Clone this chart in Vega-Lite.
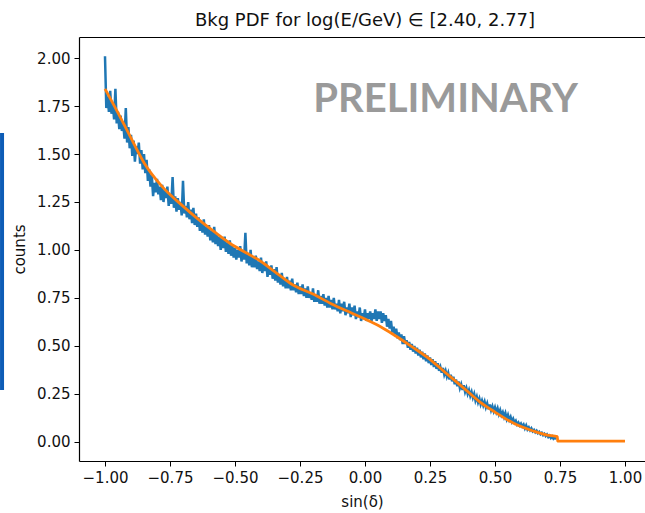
{
  "$schema": "https://vega.github.io/schema/vega-lite/v6.json",
  "width": 566,
  "height": 424,
  "autosize": {"type": "none"},
  "padding": {"left": 79, "top": 37, "right": 0, "bottom": 52},
  "background": "white",
  "title": {"text": "Bkg PDF for log(E/GeV) ∈ [2.40, 2.77]", "font": "DejaVu Sans", "fontSize": 18, "fontWeight": "normal", "color": "#111", "anchor": "middle", "offset": 7, "dx": 3},
  "config": {
    "view": {"stroke": null},
    "axis": {"labelFont": "DejaVu Sans", "titleFont": "DejaVu Sans", "labelFontSize": 15, "titleFontSize": 15, "titleFontWeight": "normal", "labelColor": "#111", "titleColor": "#111", "domainColor": "black", "tickColor": "black", "tickSize": 5, "grid": false, "labelPadding": 4, "domainWidth": 1.2}
  },
  "datasets": {
    "blue": [
      {"x": -1.000, "y": 2.01}, {"x": -0.995, "y": 1.74}, {"x": -0.990, "y": 1.80}, {"x": -0.985, "y": 1.72}, {"x": -0.980, "y": 1.83},
      {"x": -0.975, "y": 1.71}, {"x": -0.970, "y": 1.76}, {"x": -0.965, "y": 1.68}, {"x": -0.960, "y": 1.84}, {"x": -0.955, "y": 1.66},
      {"x": -0.950, "y": 1.72}, {"x": -0.945, "y": 1.63}, {"x": -0.940, "y": 1.70}, {"x": -0.935, "y": 1.62}, {"x": -0.930, "y": 1.66},
      {"x": -0.925, "y": 1.58}, {"x": -0.920, "y": 1.74}, {"x": -0.915, "y": 1.56}, {"x": -0.910, "y": 1.64}, {"x": -0.905, "y": 1.53},
      {"x": -0.900, "y": 1.60}, {"x": -0.895, "y": 1.49}, {"x": -0.890, "y": 1.57}, {"x": -0.885, "y": 1.46}, {"x": -0.880, "y": 1.54},
      {"x": -0.875, "y": 1.50}, {"x": -0.870, "y": 1.56}, {"x": -0.865, "y": 1.45}, {"x": -0.860, "y": 1.52}, {"x": -0.855, "y": 1.42},
      {"x": -0.850, "y": 1.50}, {"x": -0.845, "y": 1.40}, {"x": -0.840, "y": 1.47}, {"x": -0.835, "y": 1.36}, {"x": -0.830, "y": 1.42},
      {"x": -0.825, "y": 1.33}, {"x": -0.820, "y": 1.39}, {"x": -0.815, "y": 1.28}, {"x": -0.810, "y": 1.35}, {"x": -0.805, "y": 1.30},
      {"x": -0.800, "y": 1.37}, {"x": -0.795, "y": 1.29}, {"x": -0.790, "y": 1.33}, {"x": -0.785, "y": 1.26}, {"x": -0.780, "y": 1.34},
      {"x": -0.775, "y": 1.25}, {"x": -0.770, "y": 1.31}, {"x": -0.765, "y": 1.27}, {"x": -0.760, "y": 1.33}, {"x": -0.755, "y": 1.23},
      {"x": -0.750, "y": 1.29}, {"x": -0.745, "y": 1.24}, {"x": -0.740, "y": 1.38}, {"x": -0.735, "y": 1.22}, {"x": -0.730, "y": 1.28},
      {"x": -0.725, "y": 1.20}, {"x": -0.720, "y": 1.27}, {"x": -0.715, "y": 1.21}, {"x": -0.710, "y": 1.25}, {"x": -0.705, "y": 1.18},
      {"x": -0.700, "y": 1.36}, {"x": -0.695, "y": 1.19}, {"x": -0.690, "y": 1.23}, {"x": -0.685, "y": 1.17}, {"x": -0.680, "y": 1.25},
      {"x": -0.675, "y": 1.16}, {"x": -0.670, "y": 1.21}, {"x": -0.665, "y": 1.14}, {"x": -0.660, "y": 1.22}, {"x": -0.655, "y": 1.13},
      {"x": -0.650, "y": 1.19}, {"x": -0.645, "y": 1.12}, {"x": -0.640, "y": 1.17}, {"x": -0.635, "y": 1.10}, {"x": -0.630, "y": 1.15},
      {"x": -0.625, "y": 1.09}, {"x": -0.620, "y": 1.16}, {"x": -0.615, "y": 1.08}, {"x": -0.610, "y": 1.12}, {"x": -0.605, "y": 1.07},
      {"x": -0.600, "y": 1.13}, {"x": -0.595, "y": 1.05}, {"x": -0.590, "y": 1.10}, {"x": -0.585, "y": 1.04}, {"x": -0.580, "y": 1.12},
      {"x": -0.575, "y": 1.03}, {"x": -0.570, "y": 1.08}, {"x": -0.565, "y": 1.02}, {"x": -0.560, "y": 1.07}, {"x": -0.555, "y": 1.00},
      {"x": -0.550, "y": 1.06}, {"x": -0.545, "y": 1.01}, {"x": -0.540, "y": 1.07}, {"x": -0.535, "y": 0.99}, {"x": -0.530, "y": 1.04},
      {"x": -0.525, "y": 0.98}, {"x": -0.520, "y": 1.05}, {"x": -0.515, "y": 0.97}, {"x": -0.510, "y": 1.02}, {"x": -0.505, "y": 0.96},
      {"x": -0.500, "y": 1.01}, {"x": -0.495, "y": 0.95}, {"x": -0.490, "y": 1.00}, {"x": -0.485, "y": 0.96}, {"x": -0.480, "y": 1.02},
      {"x": -0.475, "y": 0.94}, {"x": -0.470, "y": 0.99}, {"x": -0.465, "y": 0.95}, {"x": -0.460, "y": 1.09}, {"x": -0.455, "y": 0.93},
      {"x": -0.450, "y": 0.98}, {"x": -0.445, "y": 0.92}, {"x": -0.440, "y": 1.00}, {"x": -0.435, "y": 0.91}, {"x": -0.430, "y": 0.96},
      {"x": -0.425, "y": 0.91}, {"x": -0.420, "y": 0.97}, {"x": -0.415, "y": 0.90}, {"x": -0.410, "y": 0.94}, {"x": -0.405, "y": 0.89},
      {"x": -0.400, "y": 0.96}, {"x": -0.395, "y": 0.88}, {"x": -0.390, "y": 0.93}, {"x": -0.385, "y": 0.89}, {"x": -0.380, "y": 0.94},
      {"x": -0.375, "y": 0.86}, {"x": -0.370, "y": 0.91}, {"x": -0.365, "y": 0.87}, {"x": -0.360, "y": 0.92}, {"x": -0.355, "y": 0.85},
      {"x": -0.350, "y": 0.90}, {"x": -0.345, "y": 0.84}, {"x": -0.340, "y": 0.91}, {"x": -0.335, "y": 0.83}, {"x": -0.330, "y": 0.87},
      {"x": -0.325, "y": 0.82}, {"x": -0.320, "y": 0.88}, {"x": -0.315, "y": 0.81}, {"x": -0.310, "y": 0.85}, {"x": -0.305, "y": 0.80},
      {"x": -0.300, "y": 0.86}, {"x": -0.295, "y": 0.80}, {"x": -0.290, "y": 0.84}, {"x": -0.285, "y": 0.79}, {"x": -0.280, "y": 0.85},
      {"x": -0.275, "y": 0.79}, {"x": -0.270, "y": 0.82}, {"x": -0.265, "y": 0.78}, {"x": -0.260, "y": 0.83}, {"x": -0.255, "y": 0.77},
      {"x": -0.250, "y": 0.81}, {"x": -0.245, "y": 0.77}, {"x": -0.240, "y": 0.82}, {"x": -0.235, "y": 0.76}, {"x": -0.230, "y": 0.80},
      {"x": -0.225, "y": 0.75}, {"x": -0.220, "y": 0.81}, {"x": -0.215, "y": 0.75}, {"x": -0.210, "y": 0.78}, {"x": -0.205, "y": 0.74},
      {"x": -0.200, "y": 0.80}, {"x": -0.195, "y": 0.73}, {"x": -0.190, "y": 0.77}, {"x": -0.185, "y": 0.73}, {"x": -0.180, "y": 0.79},
      {"x": -0.175, "y": 0.72}, {"x": -0.170, "y": 0.76}, {"x": -0.165, "y": 0.72}, {"x": -0.160, "y": 0.77}, {"x": -0.155, "y": 0.71},
      {"x": -0.150, "y": 0.75}, {"x": -0.145, "y": 0.70}, {"x": -0.140, "y": 0.76}, {"x": -0.135, "y": 0.70}, {"x": -0.130, "y": 0.74},
      {"x": -0.125, "y": 0.69}, {"x": -0.120, "y": 0.75}, {"x": -0.115, "y": 0.69}, {"x": -0.110, "y": 0.72}, {"x": -0.105, "y": 0.68},
      {"x": -0.100, "y": 0.74}, {"x": -0.095, "y": 0.67}, {"x": -0.090, "y": 0.72}, {"x": -0.085, "y": 0.68}, {"x": -0.080, "y": 0.73},
      {"x": -0.075, "y": 0.66}, {"x": -0.070, "y": 0.70}, {"x": -0.065, "y": 0.67}, {"x": -0.060, "y": 0.72}, {"x": -0.055, "y": 0.65},
      {"x": -0.050, "y": 0.70}, {"x": -0.045, "y": 0.66}, {"x": -0.040, "y": 0.71}, {"x": -0.035, "y": 0.64}, {"x": -0.030, "y": 0.68},
      {"x": -0.025, "y": 0.65}, {"x": -0.020, "y": 0.70}, {"x": -0.015, "y": 0.63}, {"x": -0.010, "y": 0.67}, {"x": -0.005, "y": 0.64},
      {"x": 0.000, "y": 0.69}, {"x": 0.005, "y": 0.63}, {"x": 0.010, "y": 0.67}, {"x": 0.015, "y": 0.64}, {"x": 0.020, "y": 0.68},
      {"x": 0.025, "y": 0.63}, {"x": 0.030, "y": 0.67}, {"x": 0.035, "y": 0.64}, {"x": 0.040, "y": 0.69}, {"x": 0.045, "y": 0.63},
      {"x": 0.050, "y": 0.68}, {"x": 0.055, "y": 0.64}, {"x": 0.060, "y": 0.68}, {"x": 0.065, "y": 0.62}, {"x": 0.070, "y": 0.67},
      {"x": 0.075, "y": 0.63}, {"x": 0.080, "y": 0.66}, {"x": 0.085, "y": 0.60}, {"x": 0.090, "y": 0.64}, {"x": 0.095, "y": 0.59},
      {"x": 0.100, "y": 0.63}, {"x": 0.105, "y": 0.57}, {"x": 0.110, "y": 0.60}, {"x": 0.115, "y": 0.56}, {"x": 0.120, "y": 0.59},
      {"x": 0.125, "y": 0.54}, {"x": 0.130, "y": 0.57}, {"x": 0.135, "y": 0.53}, {"x": 0.140, "y": 0.56}, {"x": 0.145, "y": 0.51},
      {"x": 0.150, "y": 0.55}, {"x": 0.155, "y": 0.51}, {"x": 0.160, "y": 0.53}, {"x": 0.165, "y": 0.49}, {"x": 0.170, "y": 0.52},
      {"x": 0.175, "y": 0.48}, {"x": 0.180, "y": 0.51}, {"x": 0.185, "y": 0.47}, {"x": 0.190, "y": 0.50}, {"x": 0.195, "y": 0.46},
      {"x": 0.200, "y": 0.49}, {"x": 0.205, "y": 0.45}, {"x": 0.210, "y": 0.48}, {"x": 0.215, "y": 0.44}, {"x": 0.220, "y": 0.47},
      {"x": 0.225, "y": 0.43}, {"x": 0.230, "y": 0.46}, {"x": 0.235, "y": 0.42}, {"x": 0.240, "y": 0.45}, {"x": 0.245, "y": 0.41},
      {"x": 0.250, "y": 0.44}, {"x": 0.255, "y": 0.40}, {"x": 0.260, "y": 0.43}, {"x": 0.265, "y": 0.39}, {"x": 0.270, "y": 0.42},
      {"x": 0.275, "y": 0.38}, {"x": 0.280, "y": 0.41}, {"x": 0.285, "y": 0.37}, {"x": 0.290, "y": 0.39}, {"x": 0.295, "y": 0.36},
      {"x": 0.300, "y": 0.385}, {"x": 0.305, "y": 0.35}, {"x": 0.310, "y": 0.37}, {"x": 0.315, "y": 0.34}, {"x": 0.320, "y": 0.36},
      {"x": 0.325, "y": 0.325}, {"x": 0.330, "y": 0.35}, {"x": 0.335, "y": 0.315}, {"x": 0.340, "y": 0.34}, {"x": 0.345, "y": 0.30},
      {"x": 0.350, "y": 0.325}, {"x": 0.355, "y": 0.29}, {"x": 0.360, "y": 0.315}, {"x": 0.365, "y": 0.28}, {"x": 0.370, "y": 0.30},
      {"x": 0.375, "y": 0.27}, {"x": 0.380, "y": 0.295}, {"x": 0.385, "y": 0.26}, {"x": 0.390, "y": 0.28}, {"x": 0.395, "y": 0.25},
      {"x": 0.400, "y": 0.27}, {"x": 0.405, "y": 0.24}, {"x": 0.410, "y": 0.26}, {"x": 0.415, "y": 0.23}, {"x": 0.420, "y": 0.25},
      {"x": 0.425, "y": 0.215}, {"x": 0.430, "y": 0.235}, {"x": 0.435, "y": 0.205}, {"x": 0.440, "y": 0.225}, {"x": 0.445, "y": 0.195},
      {"x": 0.450, "y": 0.215}, {"x": 0.455, "y": 0.19}, {"x": 0.460, "y": 0.21}, {"x": 0.465, "y": 0.18}, {"x": 0.470, "y": 0.20},
      {"x": 0.475, "y": 0.17}, {"x": 0.480, "y": 0.195}, {"x": 0.485, "y": 0.165}, {"x": 0.490, "y": 0.185}, {"x": 0.495, "y": 0.16},
      {"x": 0.500, "y": 0.18}, {"x": 0.505, "y": 0.155}, {"x": 0.510, "y": 0.175}, {"x": 0.515, "y": 0.145}, {"x": 0.520, "y": 0.165},
      {"x": 0.525, "y": 0.14}, {"x": 0.530, "y": 0.155}, {"x": 0.535, "y": 0.13}, {"x": 0.540, "y": 0.15}, {"x": 0.545, "y": 0.12},
      {"x": 0.550, "y": 0.14}, {"x": 0.555, "y": 0.115}, {"x": 0.560, "y": 0.13}, {"x": 0.565, "y": 0.105}, {"x": 0.570, "y": 0.12},
      {"x": 0.575, "y": 0.10}, {"x": 0.580, "y": 0.11}, {"x": 0.585, "y": 0.09}, {"x": 0.590, "y": 0.10}, {"x": 0.595, "y": 0.085},
      {"x": 0.600, "y": 0.095}, {"x": 0.605, "y": 0.08}, {"x": 0.610, "y": 0.09}, {"x": 0.615, "y": 0.07}, {"x": 0.620, "y": 0.085},
      {"x": 0.625, "y": 0.065}, {"x": 0.630, "y": 0.075}, {"x": 0.635, "y": 0.06}, {"x": 0.640, "y": 0.07}, {"x": 0.645, "y": 0.055},
      {"x": 0.650, "y": 0.062}, {"x": 0.655, "y": 0.05}, {"x": 0.660, "y": 0.058}, {"x": 0.665, "y": 0.045}, {"x": 0.670, "y": 0.052},
      {"x": 0.675, "y": 0.04}, {"x": 0.680, "y": 0.047}, {"x": 0.685, "y": 0.035}, {"x": 0.690, "y": 0.042}, {"x": 0.695, "y": 0.03},
      {"x": 0.700, "y": 0.038}, {"x": 0.705, "y": 0.025}, {"x": 0.710, "y": 0.032}, {"x": 0.715, "y": 0.02}, {"x": 0.720, "y": 0.028},
      {"x": 0.725, "y": 0.016}, {"x": 0.730, "y": 0.022}, {"x": 0.735, "y": 0.014}
    ],
    "orange": [
      {"x": -1.00, "y": 1.84}, {"x": -0.95, "y": 1.715}, {"x": -0.91, "y": 1.61}, {"x": -0.85, "y": 1.455},
      {"x": -0.78, "y": 1.33}, {"x": -0.71, "y": 1.24}, {"x": -0.65, "y": 1.17}, {"x": -0.58, "y": 1.095},
      {"x": -0.52, "y": 1.035}, {"x": -0.45, "y": 0.98}, {"x": -0.40, "y": 0.94}, {"x": -0.35, "y": 0.89},
      {"x": -0.28, "y": 0.82}, {"x": -0.20, "y": 0.77}, {"x": -0.13, "y": 0.72}, {"x": -0.05, "y": 0.67},
      {"x": 0.02, "y": 0.627}, {"x": 0.06, "y": 0.60}, {"x": 0.12, "y": 0.55}, {"x": 0.18, "y": 0.496},
      {"x": 0.25, "y": 0.43}, {"x": 0.31, "y": 0.36}, {"x": 0.38, "y": 0.28}, {"x": 0.44, "y": 0.21},
      {"x": 0.50, "y": 0.155}, {"x": 0.57, "y": 0.098}, {"x": 0.65, "y": 0.055}, {"x": 0.70, "y": 0.035},
      {"x": 0.74, "y": 0.027}, {"x": 0.741, "y": 0.004}, {"x": 1.00, "y": 0.004}
    ],
    "stamp": [{"x": 0.31, "y": 1.78, "label": "PRELIMINARY"}],
    "bar": [{"x": -1.396, "y": 0.27, "y2": 1.61}]
  },
  "layer": [
    {
      "data": {"name": "blue"},
      "mark": {"type": "line", "color": "#1f77b4", "strokeWidth": 2.5},
      "encoding": {
        "x": {"field": "x", "type": "quantitative", "scale": {"domain": [-1.1, 1.077], "nice": false, "zero": false},
              "axis": {"orient": "bottom", "values": [-1, -0.75, -0.5, -0.25, 0, 0.25, 0.5, 0.75, 1], "format": ".2f", "title": "sin(δ)", "titlePadding": 9}},
        "y": {"field": "y", "type": "quantitative", "scale": {"domain": [-0.1, 2.11], "nice": false, "zero": false},
              "axis": {"orient": "left", "values": [0, 0.25, 0.5, 0.75, 1, 1.25, 1.5, 1.75, 2], "format": ".2f", "title": "counts", "titlePadding": 9}}
      }
    },
    {
      "data": {"name": "orange"},
      "mark": {"type": "line", "color": "#ff7f0e", "strokeWidth": 2.8, "interpolate": "monotone"},
      "encoding": {
        "x": {"field": "x", "type": "quantitative", "axis": {"orient": "top", "labels": false, "ticks": false, "title": null}},
        "y": {"field": "y", "type": "quantitative", "axis": null}
      }
    },
    {
      "data": {"name": "stamp"},
      "mark": {"type": "text", "font": "Lato", "fontWeight": "bold", "fontSize": 40, "color": "#9a9a9a", "align": "center", "baseline": "middle"},
      "encoding": {
        "x": {"field": "x", "type": "quantitative", "axis": null},
        "y": {"field": "y", "type": "quantitative", "axis": null},
        "text": {"field": "label"}
      }
    },
    {
      "data": {"name": "bar"},
      "mark": {"type": "rule", "color": "#0d5cb6", "strokeWidth": 4},
      "encoding": {
        "x": {"field": "x", "type": "quantitative", "axis": null},
        "y": {"field": "y", "type": "quantitative", "axis": null},
        "y2": {"field": "y2"}
      }
    }
  ],
  "resolve": {"axis": {"x": "independent", "y": "independent"}}
}
